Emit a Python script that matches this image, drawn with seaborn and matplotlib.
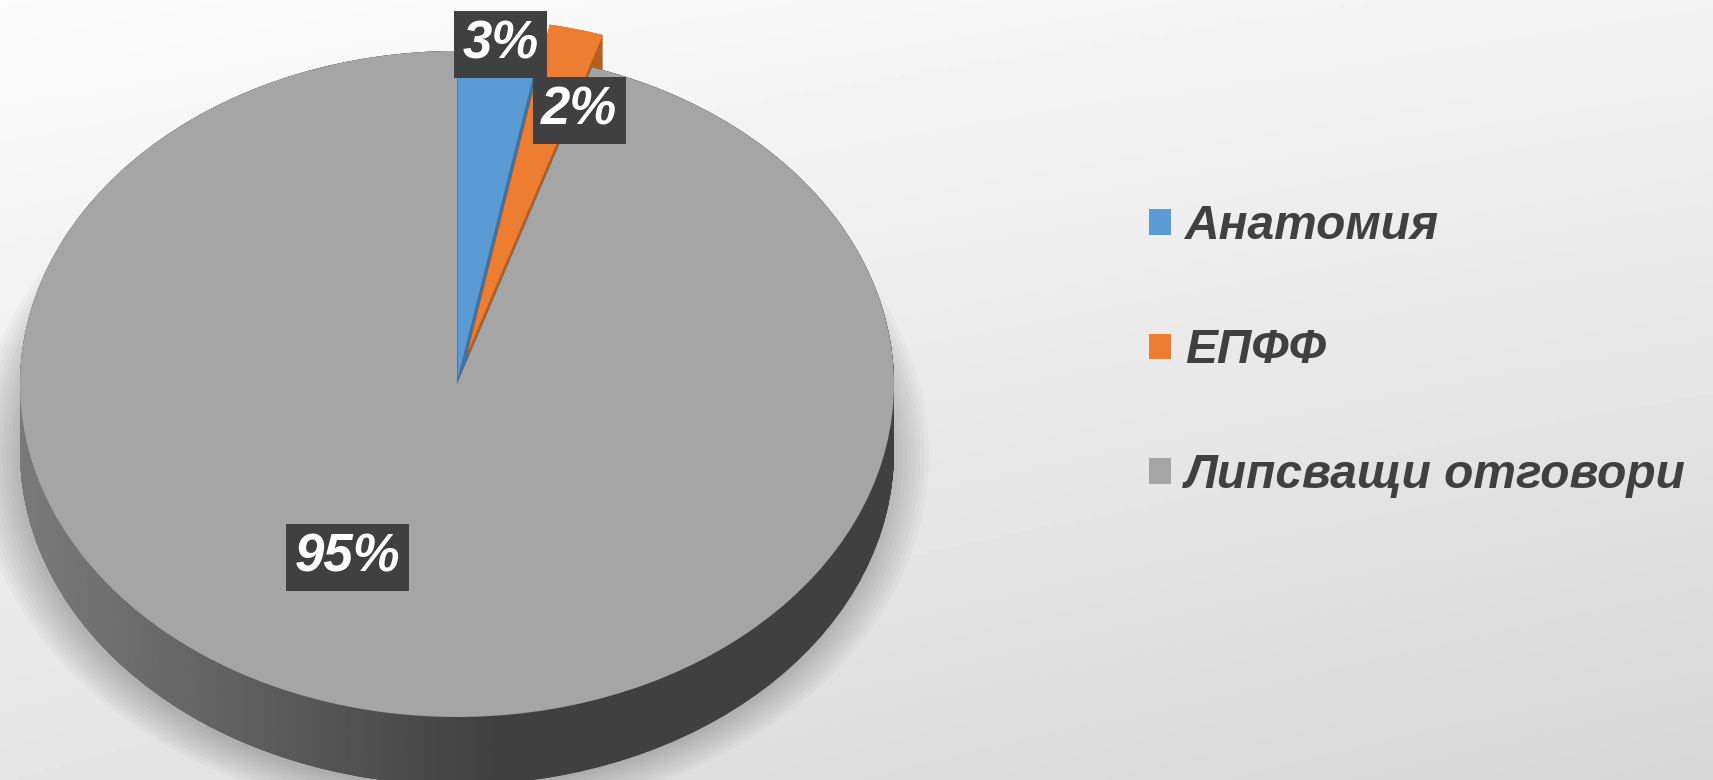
import numpy as np
import matplotlib
matplotlib.use('Agg')
import matplotlib.pyplot as plt
import seaborn as sns
from matplotlib.patches import Patch, PathPatch
from matplotlib.path import Path

categories = ['Анатомия', 'ЕПФФ', 'Липсващи отговори']
values = [3, 2, 95]
pct_labels = ['3%', '2%', '95%']
colors = ['#5b9bd5', '#ed7d31', '#a5a5a5']
side_colors = ['#3f73a3', '#b85e20', '#4a4a4a']
explode = [0.02, 0.1, 0.0]

sns.set_theme(style='white')
plt.rcParams['font.family'] = ['Liberation Sans', 'DejaVu Sans']

W, H = 1713, 780
fig = plt.figure(figsize=(W / 100, H / 100), dpi=100)

# background gradient
bg = fig.add_axes([0, 0, 1, 1])
yy, xx = np.mgrid[0:1:200j, 0:1:400j]
grad = 0.985 - 0.035 * xx - 0.09 * yy - 0.02 * xx * yy
bg.imshow(grad, cmap='gray', vmin=0, vmax=1, aspect='auto', extent=[0, 1, 0, 1], origin='upper')
bg.set_axis_off()

# pie axes: map unit circle onto an ellipse
cx, cy, rx, ry = 457, 384, 437, 333
depth = 68 / ry
ax = fig.add_axes([0, 0, 1, 1])
ax.patch.set_alpha(0)

# soft shadow
for i in range(10):
    ax.pie([1], colors=['black'], radius=1.0 + 0.01 * i, center=(-0.01, -depth - 0.01),
           wedgeprops=dict(linewidth=0, alpha=0.022))

side_gray = []
for k in np.linspace(depth, 0.0, 50):
    wedges, _ = ax.pie(values, colors=side_colors, explode=explode, startangle=90,
                       counterclock=False, center=(0, -k), radius=1,
                       wedgeprops=dict(linewidth=0))
    side_gray.append(wedges[2])

# horizontal shading of the grey side wall
paths = [w.get_path().transformed(w.get_patch_transform()) for w in side_gray]
clip = PathPatch(Path.make_compound_path(*paths), transform=ax.transData,
                 facecolor='none', edgecolor='none')
ax.add_patch(clip)
gx = np.linspace(-1, 1, 400)
shade = 0.25 + 0.23 * np.clip((0.1 - gx) / 1.1, 0, 1)
im = ax.imshow(shade[None, :], cmap='gray', vmin=0, vmax=1, aspect='auto',
               extent=[-1, 1, -1 - depth, 1], zorder=1.5)
im.set_clip_path(clip)

top, _ = ax.pie(values, colors=colors, explode=explode, startangle=90,
                counterclock=False, radius=1, wedgeprops=dict(linewidth=0))
for w in top:
    w.set_zorder(2)

ax.set_aspect('auto')
ax.set_xlim((0 - cx) / rx, (W - cx) / rx)
ax.set_ylim((cy - H) / ry, cy / ry)
ax.set_axis_off()

label_pos = [(0.10, 1.02), (0.28, 0.82), (-0.25, -0.52)]
for (x, y), t in zip(label_pos, pct_labels):
    ax.text(x, y, t, ha='center', va='center', fontsize=38, fontweight='bold',
            fontstyle='italic', color='white', zorder=5,
            bbox=dict(boxstyle='square,pad=0.16', fc='#404040', ec='none'))

handles = [Patch(facecolor=c, edgecolor='none') for c in colors]
leg = fig.legend(handles, categories, loc='center left',
                 bbox_to_anchor=(1149 / W, 1 - 351 / H), frameon=False,
                 prop=dict(size=34.5, weight='bold', style='italic'),
                 labelcolor='#404040', handlelength=0.45, handleheight=0.45,
                 labelspacing=1.66, handletextpad=0.3, borderpad=0, borderaxespad=0)

fig.savefig('out.png', dpi=100)
